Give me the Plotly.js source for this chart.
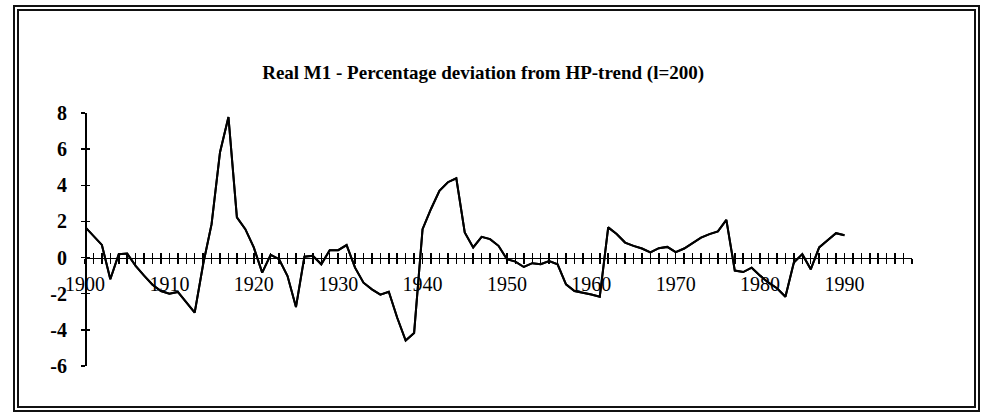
<!DOCTYPE html>
<html>
<head>
<meta charset="utf-8">
<script src="https://cdn.plot.ly/plotly-3.0.1.min.js"></script>
<style>
  html, body { margin: 0; padding: 0; background: #fff; }
  #wrap { position: relative; width: 986px; height: 414px; }
  #chart { position: absolute; left: 0; top: 0; width: 986px; height: 414px; }
  #frame { position: absolute; left: 13px; top: 5px; width: 967px; height: 407px;
           box-sizing: border-box; border: 6px double #111; pointer-events: none; }
</style>
</head>
<body>
<div id="wrap"><div id="chart"></div><div id="frame"></div></div>
<script>
const years = [];
for (let y = 1900; y <= 1990; y++) years.push(y);
const deviation = [
  1.70, 1.20, 0.70, -1.20, 0.19, 0.22, -0.46, -1.00, -1.50, -1.85,
  -2.00, -1.90, -2.45, -3.05, -0.37, 1.85, 5.83, 7.78, 2.22, 1.57,
  0.56, -0.83, 0.15, -0.09, -1.02, -2.74, 0.05, 0.10, -0.37, 0.41,
  0.41, 0.69, -0.56, -1.39, -1.76, -2.05, -1.89, -3.33, -4.59, -4.17,
  1.57, 2.69, 3.70, 4.17, 4.39, 1.39, 0.56, 1.15, 1.02, 0.65,
  -0.09, -0.22, -0.52, -0.31, -0.37, -0.19, -0.37, -1.48, -1.85, -1.94,
  -2.04, -2.17, 1.67, 1.30, 0.83, 0.65, 0.50, 0.28, 0.52, 0.59,
  0.30, 0.50, 0.80, 1.10, 1.30, 1.45, 2.09, -0.72, -0.80, -0.56,
  -1.00, -1.39, -1.70, -2.17, -0.28, 0.19, -0.65, 0.56, 0.96, 1.35,
  1.24
];
const xTickVals = [1900, 1910, 1920, 1930, 1940, 1950, 1960, 1970, 1980, 1990];
const yTickVals = [-6, -4, -2, 0, 2, 4, 6, 8];
const titleText = 'Real M1 - Percentage deviation from HP-trend (l=200)';

const serif = 'Liberation Serif, Times New Roman, serif';
const xRange = [1900, 1998];
const yRange = [-6, 8];
const zeroPos = (0 - yRange[0]) / (yRange[1] - yRange[0]);

const lineStyle = {color: '#000', width: 2};
const traces = [
  {x: years, y: deviation, type: 'scatter', mode: 'lines', line: lineStyle,
   xaxis: 'x', yaxis: 'y', hoverinfo: 'x+y'},
  {x: years, y: deviation, type: 'scatter', mode: 'lines', line: lineStyle,
   xaxis: 'x2', yaxis: 'y2', hoverinfo: 'skip'}
];

const xBase = {
  range: xRange, anchor: 'free', position: zeroPos,
  showgrid: false, zeroline: false,
  tickmode: 'array', tickvals: xTickVals, ticktext: xTickVals.map(String),
  ticklen: 5, tickwidth: 1.5, tickcolor: '#000',
  minor: {dtick: 1, tick0: 1900, ticklen: 5, tickwidth: 1.5, tickcolor: '#000', showgrid: false},
  fixedrange: true
};
const yBase = {
  range: yRange, anchor: 'free', position: 0,
  showgrid: false, zeroline: false,
  tickmode: 'array', tickvals: yTickVals, ticktext: yTickVals.map(String),
  ticklen: 4, tickwidth: 1.5, tickcolor: '#000',
  fixedrange: true
};

const layout = {
  width: 986, height: 414,
  margin: {l: 85, r: 74, t: 113, b: 48, pad: 0},
  paper_bgcolor: '#fff', plot_bgcolor: '#fff',
  showlegend: false,
  title: {text: '<b>' + titleText + '</b>', x: 0.49, xref: 'container', xanchor: 'center',
          y: 0.826, yref: 'container', yanchor: 'middle',
          font: {family: serif, size: 19, color: '#000'}},
  xaxis: Object.assign({}, xBase, {
    ticks: 'outside', showline: true, linecolor: '#000', linewidth: 1.5,
    minor: Object.assign({}, xBase.minor, {ticks: 'outside'}),
    showticklabels: true, ticklabelstandoff: 3,
    tickfont: {family: serif, size: 20, color: '#000'}
  }),
  xaxis2: Object.assign({}, xBase, {
    overlaying: 'x', ticks: 'inside', showline: false,
    minor: Object.assign({}, xBase.minor, {ticks: 'inside'}),
    showticklabels: false
  }),
  yaxis: Object.assign({}, yBase, {
    ticks: 'outside', showline: true, linecolor: '#000', linewidth: 1.5,
    showticklabels: true, ticklabelstandoff: 10,
    tickfont: {family: serif, size: 20, color: '#000', weight: 'bold'}
  }),
  yaxis2: Object.assign({}, yBase, {
    overlaying: 'y', ticks: 'inside', showline: false, showticklabels: false
  })
};

Plotly.newPlot('chart', traces, layout, {staticPlot: true, displayModeBar: false});
</script>
</body>
</html>
